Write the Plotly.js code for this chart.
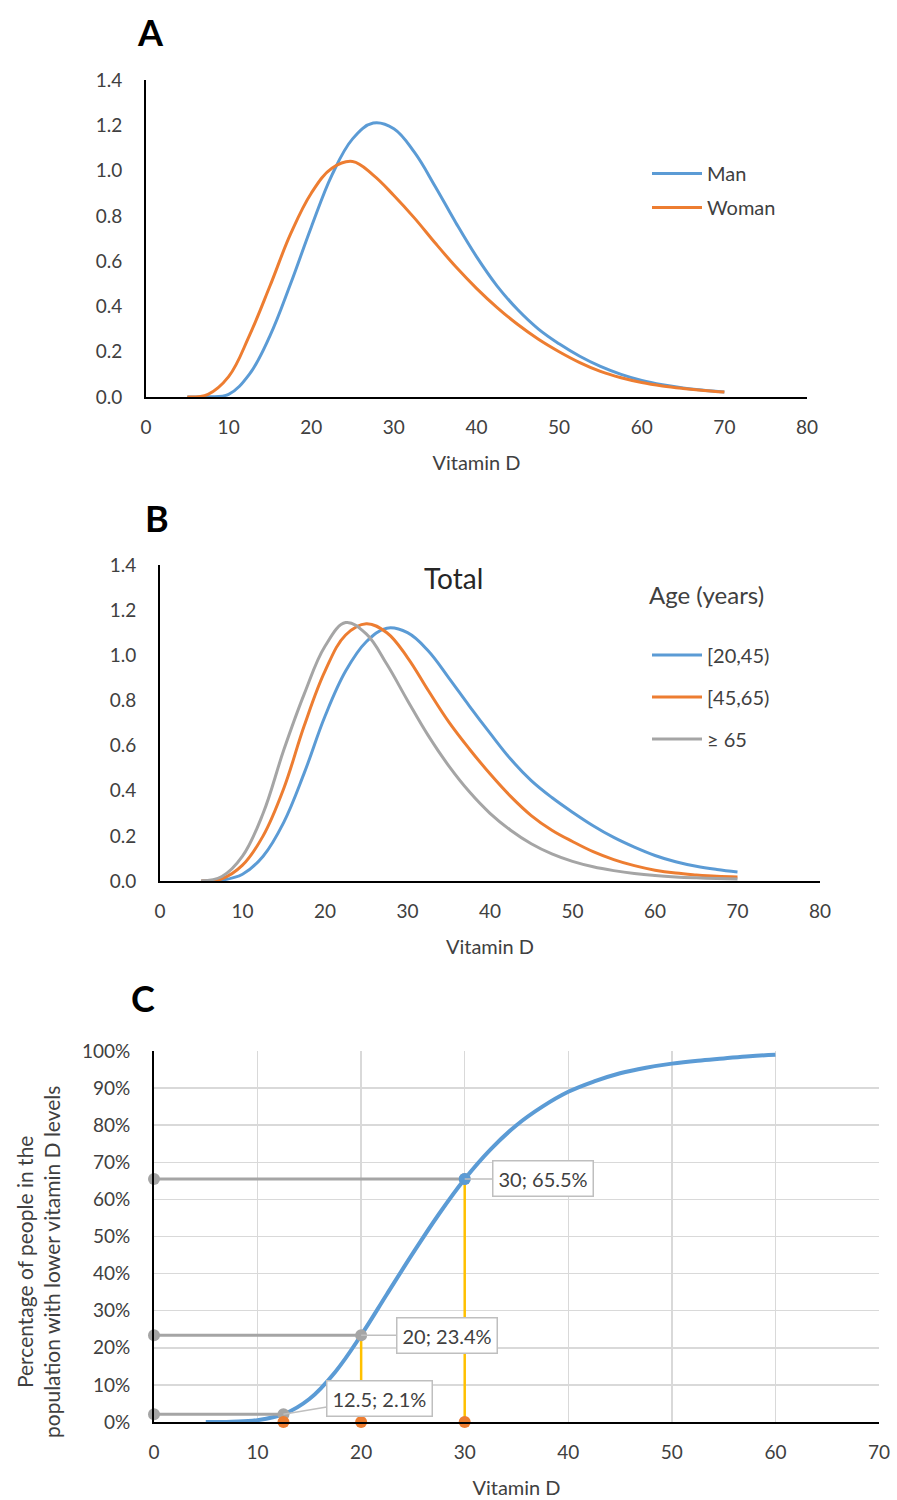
<!DOCTYPE html>
<html><head><meta charset="utf-8">
<script src="https://cdn.plot.ly/plotly-3.0.1.min.js"></script>
<style>html,body{margin:0;padding:0;background:#fff}</style>
</head><body>
<div id="chart" style="width:897px;height:1500px"></div>
<script>
// ---------- data ----------
const vitD = [5, 7.5, 10, 12.5, 15, 17.5, 20, 22.5, 25, 27.5, 30, 32.5, 35, 37.5, 40, 42.5, 45, 47.5, 50, 52.5, 55, 57.5, 60, 62.5, 65, 67.5, 70];
// Panel A
const manDensity   = [0, 0.001, 0.012, 0.1, 0.27, 0.5, 0.75, 0.98, 1.14, 1.21, 1.185, 1.08, 0.93, 0.77, 0.62, 0.49, 0.385, 0.3, 0.235, 0.18, 0.135, 0.1, 0.073, 0.054, 0.04, 0.03, 0.022];
const womanDensity = [0, 0.012, 0.09, 0.27, 0.49, 0.72, 0.9, 1.01, 1.04, 0.98, 0.89, 0.79, 0.68, 0.575, 0.48, 0.395, 0.32, 0.255, 0.2, 0.152, 0.113, 0.085, 0.064, 0.049, 0.038, 0.029, 0.022];
const sexNames = ['Man', 'Woman'];
// Panel B
const age20_45  = [0, 0.004, 0.03, 0.11, 0.26, 0.48, 0.73, 0.93, 1.06, 1.12, 1.1, 1.02, 0.9, 0.775, 0.655, 0.54, 0.445, 0.37, 0.305, 0.245, 0.193, 0.15, 0.113, 0.085, 0.065, 0.051, 0.04];
const age45_65  = [0, 0.01, 0.07, 0.2, 0.41, 0.69, 0.93, 1.09, 1.14, 1.1, 0.99, 0.845, 0.705, 0.585, 0.475, 0.375, 0.29, 0.225, 0.175, 0.13, 0.095, 0.068, 0.048, 0.035, 0.027, 0.021, 0.018];
const age65plus = [0, 0.02, 0.11, 0.3, 0.58, 0.83, 1.04, 1.145, 1.095, 0.96, 0.8, 0.645, 0.51, 0.395, 0.3, 0.225, 0.165, 0.12, 0.087, 0.063, 0.046, 0.033, 0.024, 0.018, 0.014, 0.011, 0.009];
const ageNames = ['[20,45)', '[45,65)', '\u2265 65'];
// Panel C (cumulative share of population)
const cdfX = [5, 7.5, 10, 12.5, 15, 17.5, 20, 22.5, 25, 27.5, 30, 32.5, 35, 37.5, 40, 42.5, 45, 47.5, 50, 52.5, 55, 57.5, 60];
const cdfY = [0, 0.001, 0.005, 0.021, 0.062, 0.135, 0.234, 0.345, 0.455, 0.56, 0.655, 0.735, 0.8, 0.85, 0.89, 0.918, 0.94, 0.955, 0.966, 0.974, 0.98, 0.986, 0.99];
const cutX = [12.5, 20, 30];
const cutY = [0.021, 0.234, 0.655];

// ---------- style ----------
const W = 897, H = 1500;
const px = v => v / W;
const py = v => 1 - v / H;
const FONT = 'Lato, "Open Sans", sans-serif';
const TXT = '#404040';
const BLUE = '#5B9BD5', ORANGE = '#ED7D31', GRAY = '#A5A5A5', YELLOW = '#FFC000';

const traces = [];
// Panel A
[manDensity, womanDensity].forEach((ys, i) => {
  traces.push({x: vitD, y: ys, name: sexNames[i], type: 'scatter', mode: 'lines',
    line: {color: [BLUE, ORANGE][i], width: 3, shape: 'spline', smoothing: 1.1},
    xaxis: 'x', yaxis: 'y', legend: 'legend', legendgroup: 'a' + i});
});
// Panel B
[age20_45, age45_65, age65plus].forEach((ys, i) => {
  traces.push({x: vitD, y: ys, name: ageNames[i], type: 'scatter', mode: 'lines',
    line: {color: [BLUE, ORANGE, GRAY][i], width: 3, shape: 'spline', smoothing: 1.1},
    xaxis: 'x2', yaxis: 'y2', legend: 'legend2', legendgroup: 'b' + i});
});
// Panel C
cutX.forEach((cx, i) => {
  traces.push({x: [cx, cx], y: [0, cutY[i]], mode: 'lines', line: {color: YELLOW, width: 2.5},
    xaxis: 'x3', yaxis: 'y3', showlegend: false, cliponaxis: false});
});
traces.push({x: cdfX, y: cdfY, mode: 'lines', line: {color: BLUE, width: 4, shape: 'spline', smoothing: 1.1},
  xaxis: 'x3', yaxis: 'y3', showlegend: false, cliponaxis: false});
cutX.forEach((cx, i) => {
  traces.push({x: [0, cx], y: [cutY[i], cutY[i]], mode: 'lines+markers',
    line: {color: GRAY, width: 3}, marker: {color: GRAY, size: 12},
    xaxis: 'x3', yaxis: 'y3', showlegend: false, cliponaxis: false});
});
traces.push({x: cutX.slice(2), y: cutY.slice(2), mode: 'markers', marker: {color: BLUE, size: 12},
  xaxis: 'x3', yaxis: 'y3', showlegend: false, cliponaxis: false});
traces.push({x: cutX, y: cutX.map(() => 0), mode: 'markers', marker: {color: ORANGE, size: 12},
  xaxis: 'x3', yaxis: 'y3', showlegend: false, cliponaxis: false});

// ---------- axes ----------
const tickFont = {family: FONT, size: 19, color: TXT};
const titleFont = {family: FONT, size: 20, color: TXT};
function densX(dom, anchor) {
  return {domain: dom, anchor: anchor, range: [0, 80], tick0: 0, dtick: 10, showline: true, linecolor: '#000', linewidth: 2,
    showgrid: false, zeroline: false, ticks: '', tickfont: tickFont, ticklabelstandoff: 12,
    title: {text: 'Vitamin D', font: titleFont, standoff: 19}, fixedrange: true};
}
function densY(dom, anchor) {
  return {domain: dom, anchor: anchor, range: [0, 1.4], tick0: 0, dtick: 0.2, tickformat: '.1f', showline: true,
    linecolor: '#000', linewidth: 2, showgrid: false, zeroline: false, ticks: '', tickfont: tickFont,
    ticklabelstandoff: 18, fixedrange: true};
}

const dataLabelAnn = cutX.map((cx, i) => ({
  xref: 'x3', yref: 'y3', x: cx, y: cutY[i], text: cx + '; ' + (cutY[i] * 100).toFixed(1) + '%',
  showarrow: true, arrowhead: 0, arrowwidth: 1.5, arrowcolor: '#BFBFBF', standoff: 0,
  ax: [96, 86, 78][i], ay: [-16, 0, 0][i], bgcolor: '#fff', bordercolor: '#BFBFBF', borderwidth: 1.5, borderpad: 5,
  font: {family: FONT, size: 20, color: TXT}
}));

const paperText = (x, y, text, size, color, extra) => Object.assign({xref: 'paper', yref: 'paper', x: px(x), y: py(y),
  xanchor: 'center', yanchor: 'middle', text: text, showarrow: false, font: {family: FONT, size: size, color: color}}, extra || {});

const layout = {
  width: W, height: H, margin: {l: 0, r: 0, t: 0, b: 0},
  paper_bgcolor: '#fff', plot_bgcolor: '#fff', font: {family: FONT, color: TXT},
  xaxis: densX([px(146), px(807)], 'y'),
  yaxis: densY([py(397), py(80)], 'x'),
  xaxis2: densX([px(160), px(820)], 'y2'),
  yaxis2: densY([py(881), py(565)], 'x2'),
  xaxis3: {domain: [px(154), px(879)], anchor: 'y3', range: [0, 70], tick0: 0, dtick: 10,
    showline: true, linecolor: '#000', linewidth: 2, showgrid: true, gridcolor: '#D9D9D9', gridwidth: 1.5,
    zeroline: false, ticks: '', tickfont: tickFont, ticklabelstandoff: 12,
    title: {text: 'Vitamin D', font: titleFont, standoff: 19}, fixedrange: true},
  yaxis3: {domain: [py(1422), py(1051)], anchor: 'x3', range: [0, 1], tick0: 0, dtick: 0.1, tickformat: '.0%',
    showline: true, linecolor: '#000', linewidth: 2, showgrid: true, gridcolor: '#D9D9D9', gridwidth: 1.5,
    zeroline: false, ticks: '', tickfont: tickFont, ticklabelstandoff: 18, fixedrange: true},
  legend: {x: px(647), y: py(154), xanchor: 'left', yanchor: 'top', bgcolor: 'rgba(0,0,0,0)',
    font: {family: FONT, size: 20, color: TXT}, tracegroupgap: 5, traceorder: 'grouped', itemwidth: 50},
  legend2: {x: px(647), y: py(573), xanchor: 'left', yanchor: 'top', bgcolor: 'rgba(0,0,0,0)',
    title: {text: 'Age (years)<br> ', font: {family: FONT, size: 24, color: TXT}},
    font: {family: FONT, size: 20, color: TXT}, tracegroupgap: 13, traceorder: 'grouped', itemwidth: 50},
  annotations: [
    paperText(150, 32, '<b>A</b>', 36, '#000'),
    paperText(157, 518, '<b>B</b>', 36, '#000'),
    paperText(143, 998, '<b>C</b>', 36, '#000'),
    paperText(453, 578, 'Total', 28, '#262626'),
    paperText(38, 1262, 'Percentage of people in the<br>population with lower vitamin D levels', 21, TXT, {textangle: -90})
  ].concat(dataLabelAnn)
};

Plotly.newPlot('chart', traces, layout, {staticPlot: true});
</script>
</body></html>
